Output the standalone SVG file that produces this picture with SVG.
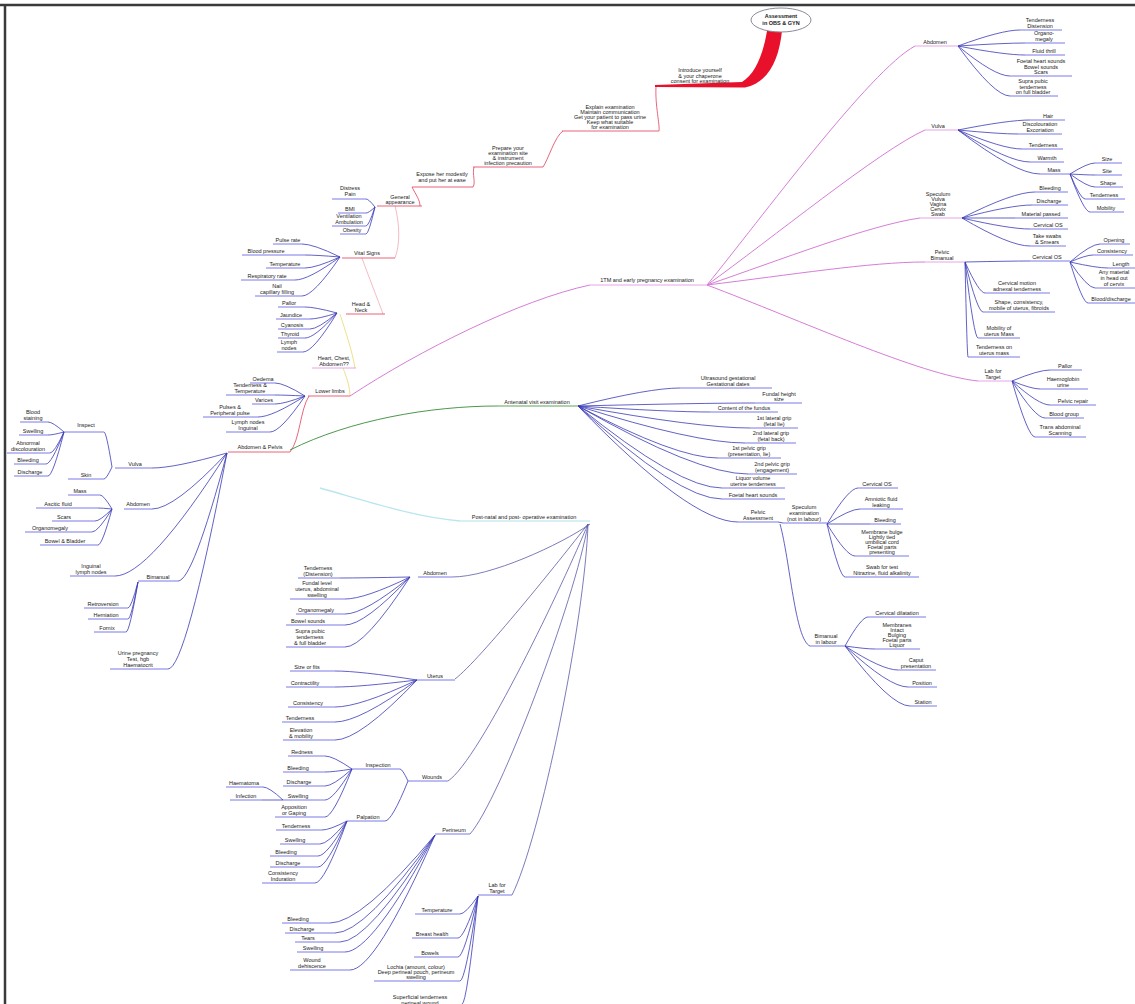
<svg xmlns="http://www.w3.org/2000/svg" width="1135" height="1004" viewBox="0 0 1135 1004">
<style>
.t{font-family:"Liberation Sans",Arial,sans-serif;font-size:5.5px;fill:#1a1a1a;text-anchor:middle}
.b{font-weight:bold}
.u{stroke:#6b6be6;stroke-width:0.9}
.ur{stroke:#e8506a;stroke-width:0.9}
.up{stroke:#e49ae4;stroke-width:0.9}
.ug{stroke:#4a9a4a;stroke-width:0.9}
.uc{stroke:#a8dde8;stroke-width:0.9}
.e{fill:none;stroke:#3a3ab8;stroke-width:0.8}
.en{fill:none;stroke:#5a5aa8;stroke-width:0.8}
.ep{fill:none;stroke:#d67ed6;stroke-width:1}
.er{fill:none;stroke:#e0405a;stroke-width:0.8}
.ey{fill:none;stroke:#e8d870;stroke-width:0.8}
.el{fill:none;stroke:#f0a8b8;stroke-width:0.8}
</style>
<rect width="1135" height="1004" fill="#ffffff"/>
<path d="M0,5 H1135 M5,5 V1004" stroke="#3a3a3a" stroke-width="2.5" fill="none"/>

<g id="connectors">
<path d="M767,31 L782,31 C779,58 770,82 745,87.5 L655,87 L655,85 L742,82 C755,74 763,55 767,31 Z" fill="#e8102a"/>
<path class="er" d="M656,87 C655,105 660,125 659,131"/>
<path class="er" d="M563,131 C555,136 548,160 543,167"/>
<path class="er" d="M474,167 C472,175 476,182 473,187"/>
<path class="er" d="M412,187 C416,195 420,200 420,206"/>
<path class="el" d="M395,206 C400,225 400,245 395,258"/>
<path class="el" d="M362,258 C368,275 378,300 383,314"/>
<path class="ey" d="M340,314 C345,330 352,350 355,368"/>
<path class="ey" d="M343,368 C347,378 350,388 350,396"/>
<path class="er" d="M309,396 C300,410 300,440 290,452"/>
<path class="ep" d="M350,396 C420,350 520,300 590,285"/>
<path fill="none" stroke="#3a8a3a" stroke-width="0.9" d="M290,450 C350,420 430,406 498,406"/>
<path fill="none" stroke="#b8e6f0" stroke-width="1.3" d="M320,488 C380,505 420,518 460,521"/>

<path class="ep" d="M707,285 C760,220 870,70 915,46"/>
<path class="ep" d="M707,285 C770,240 880,150 925,130"/>
<path class="ep" d="M707,285 C780,260 870,225 920,218"/>
<path class="ep" d="M707,285 C790,275 870,262 925,262"/>
<path class="ep" d="M707,285 C800,320 920,375 978,381"/>

<path class="e" d="M375,207 Q368.7,199 366,199 M375,207 Q368.7,213 366,213 M375,207 Q368.7,226 366,226 M375,207 Q368.7,234 366,234"/>
<path class="e" d="M340,257 Q313.4,244 302,244 M340,257 Q315.5,255 305,255 M340,257 Q315.5,268 305,268 M340,257 Q308.5,280 295,280 M340,257 Q313.4,296 302,296"/>
<path class="e" d="M337,313 Q314.6,307 305,307 M337,313 Q318.1,319 310,319 M337,313 Q318.1,329 310,329 M337,313 Q314.6,338 305,338 M337,313 Q313.2,352 303,352"/>
<path class="e" d="M305,396 Q284,383 275,383 M305,396 Q284,395 275,395 M305,396 Q284,404 275,404 M305,396 Q272.1,417 258,417 M305,396 Q280.5,432 270,432"/>
<path class="e" d="M227,453 Q174.5,468 152,468 M227,453 Q174.5,509 152,509 M227,453 Q148.6,576 115,576 M227,453 Q192.7,581 178,581 M227,453 Q185.7,669 168,669"/>
<path class="e" d="M112,467 Q106.4,432 104,432 M112,467 Q106.4,479 104,479"/>
<path class="e" d="M64,432 Q52.8,422 48,422 M64,432 Q52.8,435 48,435 M64,432 Q54.2,453 50,453 M64,432 Q51.4,464 46,464 M64,432 Q52.8,476 48,476"/>
<path class="e" d="M112,509 Q103.6,495 100,495 M112,509 Q102.2,508 98,508 M112,509 Q100.1,521 95,521 M112,509 Q98,532 92,532 M112,509 Q102.2,545 98,545"/>
<path class="e" d="M138,582 Q131,608 128,608 M138,582 Q131,619 128,619 M138,582 Q129.6,632 126,632"/>

<path class="e" d="M958,46 Q1001.4,30 1020,30 M958,46 Q1004.9,43 1025,43 M958,46 Q1004.9,55 1025,55 M958,46 Q994.4,76 1010,76 M958,46 Q994.4,96 1010,96"/>
<path class="e" d="M958,130 Q1008.4,120 1030,120 M958,130 Q1000,134 1018,134 M958,130 Q1002.8,149 1022,149 M958,130 Q1008.4,162 1030,162 M958,130 Q1015.4,174 1040,174"/>
<path class="e" d="M1070,174 Q1087.5,163 1095,163 M1070,174 Q1087.5,175 1095,175 M1070,174 Q1087.5,187 1095,187 M1070,174 Q1080.5,199 1085,199 M1070,174 Q1084,212 1090,212"/>
<path class="e" d="M962,218 Q1013.1,192 1035,192 M962,218 Q1011,205 1032,205 M962,218 Q999.1,218 1015,218 M962,218 Q1009.6,229 1030,229 M962,218 Q1009.6,246 1030,246"/>
<path class="e" d="M965,262 Q1010.5,261 1030,261 M965,262 Q979,293 985,293 M965,262 Q977.6,312 983,312 M965,262 Q974.1,338 978,338 M965,262 Q967.1,357 968,357"/>
<path class="e" d="M1070,262 Q1091,244 1100,244 M1070,262 Q1086.1,255 1093,255 M1070,262 Q1096.6,268 1108,268 M1070,262 Q1087.5,288 1095,288 M1070,262 Q1082.6,303 1088,303"/>
<path class="e" d="M1012,381 Q1038.6,370 1050,370 M1012,381 Q1031.6,389 1040,389 M1012,381 Q1038.6,405 1050,405 M1012,381 Q1035.1,418 1045,418 M1012,381 Q1028.1,437 1035,437"/>

<path class="e" d="M578,406 Q649.4,388 680,388 M578,406 Q701.9,403 755,403 M578,406 Q670.4,412 710,412 M578,406 Q698.4,428 750,428 M578,406 Q694.9,443 745,443 M578,406 Q676,458 718,458 M578,406 Q697,474 748,474 M578,406 Q678.8,488 722,488 M578,406 Q678.8,499 722,499 M578,406 Q690,522 738,522"/>
<path class="e" d="M778,522 L783,523 M780,524 C790,560 795,640 810,646"/>
<path class="e" d="M827,524 Q848.7,488 858,488 M827,524 Q850.1,509 860,509 M827,524 L870,524 M827,524 Q846.6,556 855,556 M827,524 Q839.6,577 845,577"/>
<path class="e" d="M845,646 Q861.1,617 868,617 M845,646 Q866,649 875,649 M845,646 Q882.1,670 898,670 M845,646 Q889.1,687 908,687 M845,646 Q890.5,706 910,706"/>

<path class="en" d="M590,524 C560,545 490,577 452,577"/>
<path class="en" d="M588,524 C560,560 480,660 455,679"/>
<path class="en" d="M588,524 C565,580 480,760 448,781"/>
<path class="en" d="M588,524 C575,600 500,800 470,834"/>
<path class="en" d="M588,524 C585,620 540,840 512,895"/>
<path class="e" d="M410,577 Q361,578 340,578 M410,577 Q364.5,599 345,599 M410,577 Q364.5,614 345,614 M410,577 Q364.5,625 345,625 M410,577 Q364.5,647 345,647"/>
<path class="e" d="M417,680 Q359.6,671 335,671 M417,680 Q359.6,687 335,687 M417,680 Q359.6,707 335,707 M417,680 Q359.6,722 335,722 M417,680 Q359.6,740 335,740"/>
<path class="e" d="M408,781 Q402.4,769 400,769 M408,781 Q391.9,821 385,821"/>
<path class="e" d="M352,769 Q333.1,756 325,756 M352,769 Q333.1,772 325,772 M352,769 Q333.1,786 325,786 M352,769 Q333.1,800 325,800 M352,769 Q333.1,817 325,817"/>
<path class="e" d="M283,800 Q269,787 263,787 M283,800 L262,800"/>
<path class="e" d="M347,821 Q329.5,830 322,830 M347,821 Q328.1,844 320,844 M347,821 Q326.7,856 318,856 M347,821 Q326.7,867 318,867 M347,821 Q324.6,883 315,883"/>
<path class="e" d="M435,835 Q361.5,923 330,923 M435,835 Q365,933 335,933 M435,835 Q368.5,942 340,942 M435,835 Q372,952 345,952 M435,835 Q375.5,970 350,970"/>
<path class="e" d="M478,896 Q465.4,914 460,914 M478,896 Q464,938 458,938 M478,896 Q464,957 458,957 M478,896 Q465.4,981 460,981 M478,896 Q466.8,1004 462,1004"/>
</g>

<g id="root">
<ellipse cx="781" cy="20" rx="30" ry="12" fill="#ffffff" stroke="#8a8a9a" stroke-width="1"/>
<text class="t b" x="781" y="18">Assessment</text>
<text class="t b" x="781" y="25">in OBS &amp; GYN</text>
</g>

<g id="n-intro"><text class="t" x="700" y="72">Introduce yourself</text><text class="t" x="700" y="77.5">&amp; your chaperone</text><text class="t" x="700" y="83">consent for examination</text></g>
<g id="n-explain"><text class="t" x="610" y="109">Explain examination</text><text class="t" x="610" y="114">Maintain communication</text><text class="t" x="610" y="119">Get your patient to pass urine</text><text class="t" x="610" y="124">Keep what suitable</text><text class="t" x="610" y="129">for examination</text><line class="ur" x1="562" y1="131" x2="659" y2="131"/></g>
<g id="n-prepare"><text class="t" x="508" y="150">Prepare your</text><text class="t" x="508" y="155">examination site</text><text class="t" x="508" y="160">&amp; instrument</text><text class="t" x="508" y="165">infection precaution</text><line class="ur" x1="473" y1="167" x2="543" y2="167"/></g>
<g id="n-expose"><text class="t" x="442" y="176">Expose her modestly</text><text class="t" x="442" y="182">and put her at ease</text><line class="ur" x1="412" y1="187" x2="473" y2="187"/></g>

<g id="n-general"><text class="t" x="400" y="199">General</text><text class="t" x="400" y="204">appearance</text><line class="ur" x1="377" y1="206" x2="422" y2="206"/></g>
<g id="n-distress"><text class="t" x="350" y="190">Distress</text><text class="t" x="350" y="196">Pain</text><line class="u" x1="332" y1="199" x2="366" y2="199"/></g>
<g id="n-bmi"><text class="t" x="350" y="211">BMI</text><line class="u" x1="338" y1="213" x2="366" y2="213"/></g>
<g id="n-vent"><text class="t" x="349" y="218">Ventilation</text><text class="t" x="349" y="223.5">Ambulation</text><line class="u" x1="332" y1="226" x2="366" y2="226"/></g>
<g id="n-obesity"><text class="t" x="352" y="232">Obesity</text><line class="u" x1="340" y1="234" x2="366" y2="234"/></g>

<g id="n-vital"><text class="t" x="367" y="255">Vital Signs</text><line class="ur" x1="342" y1="258" x2="395" y2="258"/></g>
<g id="n-pulse"><text class="t" x="288" y="242">Pulse rate</text><line class="u" x1="273" y1="244" x2="302" y2="244"/></g>
<g id="n-bp"><text class="t" x="266" y="253">Blood pressure</text><line class="u" x1="242" y1="255" x2="305" y2="255"/></g>
<g id="n-temp"><text class="t" x="285" y="266">Temperature</text><line class="u" x1="266" y1="268" x2="305" y2="268"/></g>
<g id="n-resp"><text class="t" x="267" y="278">Respiratory rate</text><line class="u" x1="241" y1="280" x2="295" y2="280"/></g>
<g id="n-nail"><text class="t" x="277" y="288">Nail</text><text class="t" x="277" y="294">capillary filling</text><line class="u" x1="255" y1="296" x2="302" y2="296"/></g>

<g id="n-headneck"><text class="t" x="361" y="306">Head &amp;</text><text class="t" x="361" y="312">Neck</text><line class="ur" x1="346" y1="314" x2="385" y2="314"/></g>
<g id="n-pallor"><text class="t" x="289" y="305">Pallor</text><line class="u" x1="278" y1="307" x2="305" y2="307"/></g>
<g id="n-jaundice"><text class="t" x="291" y="317">Jaundice</text><line class="u" x1="276" y1="319" x2="310" y2="319"/></g>
<g id="n-cyanosis"><text class="t" x="292" y="327">Cyanosis</text><line class="u" x1="278" y1="329" x2="310" y2="329"/></g>
<g id="n-thyroid"><text class="t" x="290" y="336">Thyroid</text><line class="u" x1="278" y1="338" x2="305" y2="338"/></g>
<g id="n-lymph"><text class="t" x="289" y="344">Lymph</text><text class="t" x="289" y="350">nodes</text><line class="u" x1="277" y1="352" x2="303" y2="352"/></g>

<g id="n-heart"><text class="t" x="334" y="360">Heart, Chest,</text><text class="t" x="334" y="366">Abdomen??</text><line class="up" x1="312" y1="368" x2="356" y2="368"/></g>

<g id="n-lower"><text class="t" x="330" y="393">Lower limbs</text><line class="ur" x1="308" y1="396" x2="350" y2="396"/></g>
<g id="n-oedema"><text class="t" x="263" y="381">Oedema</text><line class="u" x1="250" y1="383" x2="275" y2="383"/></g>
<g id="n-tender-ll"><text class="t" x="250" y="387">Tenderness &amp;</text><text class="t" x="250" y="393">Temperature</text><line class="u" x1="226" y1="395" x2="275" y2="395"/></g>
<g id="n-varices"><text class="t" x="264" y="402">Varices</text><line class="u" x1="252" y1="404" x2="275" y2="404"/></g>
<g id="n-pulses"><text class="t" x="230" y="409">Pulses &amp;</text><text class="t" x="230" y="415">Peripheral pulse</text><line class="u" x1="203" y1="417" x2="258" y2="417"/></g>
<g id="n-lymph-ll"><text class="t" x="248" y="424">Lymph nodes</text><text class="t" x="248" y="430">Inguinal</text><line class="u" x1="226" y1="432" x2="270" y2="432"/></g>

<g id="n-abdpelvis"><text class="t" x="260" y="449">Abdomen &amp; Pelvis</text><line class="ur" x1="228" y1="452" x2="290" y2="452"/></g>
<g id="n-vulva"><text class="t" x="135" y="466">Vulva</text><line class="u" x1="115" y1="468" x2="152" y2="468"/></g>
<g id="n-inspect"><text class="t" x="86" y="427">Inspect</text><line class="u" x1="64" y1="432" x2="104" y2="432"/></g>
<g id="n-skin"><text class="t" x="86" y="477">Skin</text><line class="u" x1="68" y1="479" x2="104" y2="479"/></g>
<g id="n-bstain"><text class="t" x="33" y="414">Blood</text><text class="t" x="33" y="420">staining</text><line class="u" x1="20" y1="422" x2="48" y2="422"/></g>
<g id="n-swell-v"><text class="t" x="33" y="433">Swelling</text><line class="u" x1="19" y1="435" x2="48" y2="435"/></g>
<g id="n-abnorm"><text class="t" x="28" y="445">Abnormal</text><text class="t" x="28" y="451">discolouration</text><line class="u" x1="7" y1="453" x2="50" y2="453"/></g>
<g id="n-bleed-v"><text class="t" x="28" y="462">Bleeding</text><line class="u" x1="14" y1="464" x2="46" y2="464"/></g>
<g id="n-disch-v"><text class="t" x="30" y="474">Discharge</text><line class="u" x1="14" y1="476" x2="48" y2="476"/></g>

<g id="n-abd-ap"><text class="t" x="138" y="506">Abdomen</text><line class="u" x1="124" y1="509" x2="152" y2="509"/></g>
<g id="n-mass-ap"><text class="t" x="80" y="493">Mass</text><line class="u" x1="68" y1="495" x2="100" y2="495"/></g>
<g id="n-ascitic"><text class="t" x="58" y="506">Ascitic fluid</text><line class="u" x1="36" y1="508" x2="98" y2="508"/></g>
<g id="n-scars-ap"><text class="t" x="64" y="519">Scars</text><line class="u" x1="52" y1="521" x2="95" y2="521"/></g>
<g id="n-organo-ap"><text class="t" x="50" y="530">Organomegaly</text><line class="u" x1="25" y1="532" x2="92" y2="532"/></g>
<g id="n-bowel-ap"><text class="t" x="65" y="543">Bowel &amp; Bladder</text><line class="u" x1="40" y1="545" x2="98" y2="545"/></g>
<g id="n-inguinal"><text class="t" x="91" y="568">Inguinal</text><text class="t" x="91" y="574">lymph nodes</text><line class="u" x1="70" y1="576" x2="115" y2="576"/></g>
<g id="n-bimanual-ap"><text class="t" x="158" y="579">Bimanual</text><line class="u" x1="138" y1="581" x2="178" y2="581"/></g>
<g id="n-retro"><text class="t" x="103" y="606">Retroversion</text><line class="u" x1="84" y1="608" x2="128" y2="608"/></g>
<g id="n-hern"><text class="t" x="106" y="617">Herniation</text><line class="u" x1="88" y1="619" x2="128" y2="619"/></g>
<g id="n-fornix"><text class="t" x="107" y="630">Fornix</text><line class="u" x1="94" y1="632" x2="126" y2="632"/></g>
<g id="n-urine"><text class="t" x="138" y="655">Urine pregnancy</text><text class="t" x="138" y="661">Test, hgb</text><text class="t" x="138" y="667">Haematocrit</text><line class="u" x1="110" y1="669" x2="168" y2="669"/></g>

<g id="n-1tm"><text class="t" x="647" y="282">1TM and early pregnancy examination</text><line class="up" x1="590" y1="285" x2="707" y2="285"/></g>
<g id="n-abd1"><text class="t" x="935" y="44">Abdomen</text><line class="up" x1="915" y1="46" x2="958" y2="46"/></g>
<g id="n-tend1"><text class="t" x="1040" y="22">Tenderness</text><text class="t" x="1040" y="28">Distension</text><line class="u" x1="1020" y1="30" x2="1062" y2="30"/></g>
<g id="n-organo1"><text class="t" x="1044" y="35">Organo-</text><text class="t" x="1044" y="41">megaly</text><line class="u" x1="1025" y1="43" x2="1065" y2="43"/></g>
<g id="n-fluid1"><text class="t" x="1044" y="53">Fluid thrill</text><line class="u" x1="1025" y1="55" x2="1065" y2="55"/></g>
<g id="n-foetal1"><text class="t" x="1041" y="63">Foetal heart sounds</text><text class="t" x="1041" y="68.5">Bowel sounds</text><text class="t" x="1041" y="74">Scars</text><line class="u" x1="1010" y1="76" x2="1072" y2="76"/></g>
<g id="n-supra1"><text class="t" x="1033" y="83">Supra pubic</text><text class="t" x="1033" y="88.5">tenderness</text><text class="t" x="1033" y="94">on full bladder</text><line class="u" x1="1010" y1="96" x2="1058" y2="96"/></g>

<g id="n-vulva1"><text class="t" x="938" y="128">Vulva</text><line class="up" x1="925" y1="130" x2="958" y2="130"/></g>
<g id="n-hair1"><text class="t" x="1048" y="118">Hair</text><line class="u" x1="1030" y1="120" x2="1065" y2="120"/></g>
<g id="n-discol1"><text class="t" x="1040" y="126">Discolouration</text><text class="t" x="1040" y="132">Excoriation</text><line class="u" x1="1018" y1="134" x2="1062" y2="134"/></g>
<g id="n-tend1b"><text class="t" x="1043" y="147">Tenderness</text><line class="u" x1="1022" y1="149" x2="1063" y2="149"/></g>
<g id="n-warm1"><text class="t" x="1047" y="160">Warmth</text><line class="u" x1="1030" y1="162" x2="1064" y2="162"/></g>
<g id="n-mass1"><text class="t" x="1054" y="172">Mass</text><line class="u" x1="1040" y1="174" x2="1070" y2="174"/></g>
<g id="n-size1"><text class="t" x="1107" y="161">Size</text><line class="u" x1="1095" y1="163" x2="1122" y2="163"/></g>
<g id="n-site1"><text class="t" x="1107" y="173">Site</text><line class="u" x1="1095" y1="175" x2="1122" y2="175"/></g>
<g id="n-shape1"><text class="t" x="1108" y="185">Shape</text><line class="u" x1="1095" y1="187" x2="1123" y2="187"/></g>
<g id="n-tend1c"><text class="t" x="1104" y="197">Tenderness</text><line class="u" x1="1085" y1="199" x2="1125" y2="199"/></g>
<g id="n-mob1"><text class="t" x="1106" y="210">Mobility</text><line class="u" x1="1090" y1="212" x2="1124" y2="212"/></g>

<g id="n-spec1"><text class="t" x="938" y="196">Speculum</text><text class="t" x="938" y="201">Vulva</text><text class="t" x="938" y="206">Vagina</text><text class="t" x="938" y="211">Cervix</text><text class="t" x="938" y="216">Swab</text><line class="up" x1="920" y1="218" x2="962" y2="218"/></g>
<g id="n-bleed1"><text class="t" x="1050" y="190">Bleeding</text><line class="u" x1="1035" y1="192" x2="1068" y2="192"/></g>
<g id="n-disch1"><text class="t" x="1049" y="203">Discharge</text><line class="u" x1="1032" y1="205" x2="1068" y2="205"/></g>
<g id="n-mat1"><text class="t" x="1041" y="216">Material passed</text><line class="u" x1="1015" y1="218" x2="1068" y2="218"/></g>
<g id="n-cos1"><text class="t" x="1048" y="227">Cervical OS</text><line class="u" x1="1030" y1="229" x2="1068" y2="229"/></g>
<g id="n-swabs1"><text class="t" x="1047" y="238">Take swabs</text><text class="t" x="1047" y="244">&amp; Smears</text><line class="u" x1="1030" y1="246" x2="1066" y2="246"/></g>

<g id="n-pelvic1"><text class="t" x="942" y="254">Pelvic</text><text class="t" x="942" y="260">Bimanual</text><line class="up" x1="925" y1="262" x2="965" y2="262"/></g>
<g id="n-cos2"><text class="t" x="1047" y="259">Cervical OS</text><line class="u" x1="1030" y1="261" x2="1070" y2="261"/></g>
<g id="n-open"><text class="t" x="1114" y="242">Opening</text><line class="u" x1="1100" y1="244" x2="1130" y2="244"/></g>
<g id="n-consist1"><text class="t" x="1112" y="253">Consistency</text><line class="u" x1="1093" y1="255" x2="1133" y2="255"/></g>
<g id="n-length"><text class="t" x="1121" y="266">Length</text><line class="u" x1="1108" y1="268" x2="1135" y2="268"/></g>
<g id="n-anymat"><text class="t" x="1114" y="274">Any material</text><text class="t" x="1114" y="280">in head out</text><text class="t" x="1114" y="286">of cervix</text><line class="u" x1="1095" y1="288" x2="1135" y2="288"/></g>
<g id="n-blooddis"><text class="t" x="1111" y="301">Blood/discharge</text><line class="u" x1="1088" y1="303" x2="1135" y2="303"/></g>
<g id="n-cmotion"><text class="t" x="1017" y="285">Cervical motion</text><text class="t" x="1017" y="291">adnexal tenderness</text><line class="u" x1="985" y1="293" x2="1050" y2="293"/></g>
<g id="n-shape2"><text class="t" x="1019" y="304">Shape, consistency,</text><text class="t" x="1019" y="310">mobile of uterus, fibroids</text><line class="u" x1="983" y1="312" x2="1055" y2="312"/></g>
<g id="n-mobut"><text class="t" x="999" y="330">Mobility of</text><text class="t" x="999" y="336">uterus Mass</text><line class="u" x1="978" y1="338" x2="1020" y2="338"/></g>
<g id="n-tendon"><text class="t" x="994" y="349">Tenderness on</text><text class="t" x="994" y="355">uterus mass</text><line class="u" x1="968" y1="357" x2="1020" y2="357"/></g>

<g id="n-lab1"><text class="t" x="993" y="373">Lab for</text><text class="t" x="993" y="379">Target</text><line class="up" x1="978" y1="381" x2="1012" y2="381"/></g>
<g id="n-pallor1"><text class="t" x="1065" y="368">Pallor</text><line class="u" x1="1050" y1="370" x2="1082" y2="370"/></g>
<g id="n-haemo1"><text class="t" x="1063" y="381">Haemoglobin</text><text class="t" x="1063" y="387">urine</text><line class="u" x1="1040" y1="389" x2="1088" y2="389"/></g>
<g id="n-prepair"><text class="t" x="1073" y="403">Pelvic repair</text><line class="u" x1="1050" y1="405" x2="1096" y2="405"/></g>
<g id="n-bgroup"><text class="t" x="1064" y="416">Blood group</text><line class="u" x1="1045" y1="418" x2="1084" y2="418"/></g>
<g id="n-trans"><text class="t" x="1060" y="429">Trans abdominal</text><text class="t" x="1060" y="435">Scanning</text><line class="u" x1="1035" y1="437" x2="1086" y2="437"/></g>

<g id="n-antenatal"><text class="t" x="537" y="404">Antenatal visit examination</text><line class="ug" x1="498" y1="406" x2="578" y2="406"/></g>
<g id="n-ultra"><text class="t" x="728" y="380">Ultrasound gestational</text><text class="t" x="728" y="386">Gestational dates</text><line class="u" x1="680" y1="388" x2="772" y2="388"/></g>
<g id="n-fundal"><text class="t" x="779" y="396">Fundal height</text><text class="t" x="779" y="401">size</text><line class="u" x1="755" y1="403" x2="802" y2="403"/></g>
<g id="n-content"><text class="t" x="744" y="410">Content of the fundus</text><line class="u" x1="710" y1="412" x2="778" y2="412"/></g>
<g id="n-lat1"><text class="t" x="774" y="420">1st lateral grip</text><text class="t" x="774" y="426">(fetal lie)</text><line class="u" x1="750" y1="428" x2="798" y2="428"/></g>
<g id="n-lat2"><text class="t" x="771" y="435">2nd lateral grip</text><text class="t" x="771" y="441">(fetal back)</text><line class="u" x1="745" y1="443" x2="796" y2="443"/></g>
<g id="n-pel1"><text class="t" x="749" y="450">1st pelvic grip</text><text class="t" x="749" y="456">(presentation, lie)</text><line class="u" x1="718" y1="458" x2="781" y2="458"/></g>
<g id="n-pel2"><text class="t" x="772" y="466">2nd pelvic grip</text><text class="t" x="772" y="472">(engagement)</text><line class="u" x1="748" y1="474" x2="797" y2="474"/></g>
<g id="n-liquor"><text class="t" x="753" y="480">Liquor volume</text><text class="t" x="753" y="486">uterine tenderness</text><line class="u" x1="722" y1="488" x2="785" y2="488"/></g>
<g id="n-fhs"><text class="t" x="753" y="497">Foetal heart sounds</text><line class="u" x1="722" y1="499" x2="785" y2="499"/></g>
<g id="n-pelvass"><text class="t" x="758" y="514">Pelvic</text><text class="t" x="758" y="520">Assessment</text><line class="u" x1="738" y1="522" x2="778" y2="522"/></g>
<g id="n-specex"><text class="t" x="804" y="509">Speculum</text><text class="t" x="804" y="515">examination</text><text class="t" x="804" y="521">(not in labour)</text><line class="u" x1="783" y1="523" x2="827" y2="523"/></g>
<g id="n-cos3"><text class="t" x="877" y="486">Cervical OS</text><line class="u" x1="858" y1="488" x2="898" y2="488"/></g>
<g id="n-amnio"><text class="t" x="881" y="501">Amniotic fluid</text><text class="t" x="881" y="507">leaking</text><line class="u" x1="860" y1="509" x2="903" y2="509"/></g>
<g id="n-bleed3"><text class="t" x="885" y="522">Bleeding</text><line class="u" x1="870" y1="524" x2="901" y2="524"/></g>
<g id="n-memb"><text class="t" x="882" y="534">Membrane bulge</text><text class="t" x="882" y="539">Lightly tied</text><text class="t" x="882" y="544">umbilical cord</text><text class="t" x="882" y="549">Foetal parts</text><text class="t" x="882" y="554">presenting</text><line class="u" x1="855" y1="556" x2="909" y2="556"/></g>
<g id="n-swab3"><text class="t" x="882" y="569">Swab for test</text><text class="t" x="882" y="575">Nitrazine, fluid alkalinity</text><line class="u" x1="845" y1="577" x2="919" y2="577"/></g>
<g id="n-biminl"><text class="t" x="826" y="638">Bimanual</text><text class="t" x="826" y="644">in labour</text><line class="u" x1="810" y1="646" x2="845" y2="646"/></g>
<g id="n-cdil"><text class="t" x="897" y="615">Cervical dilatation</text><line class="u" x1="868" y1="617" x2="926" y2="617"/></g>
<g id="n-membs"><text class="t" x="897" y="627">Membranes</text><text class="t" x="897" y="632">Intact</text><text class="t" x="897" y="637">Bulging</text><text class="t" x="897" y="642">Foetal parts</text><text class="t" x="897" y="647">Liquor</text><line class="u" x1="875" y1="649" x2="920" y2="649"/></g>
<g id="n-caput"><text class="t" x="916" y="662">Caput</text><text class="t" x="916" y="668">presentation</text><line class="u" x1="898" y1="670" x2="936" y2="670"/></g>
<g id="n-position"><text class="t" x="922" y="685">Position</text><line class="u" x1="908" y1="687" x2="937" y2="687"/></g>
<g id="n-station"><text class="t" x="923" y="704">Station</text><line class="u" x1="910" y1="706" x2="937" y2="706"/></g>

<g id="n-postnatal"><text class="t" x="524" y="519">Post-natal and post- operative examination</text><line class="uc" x1="460" y1="521" x2="590" y2="521"/></g>
<g id="n-abd-pn"><text class="t" x="435" y="575">Abdomen</text><line class="u" x1="418" y1="577" x2="452" y2="577"/></g>
<g id="n-tend-pn"><text class="t" x="318" y="570">Tenderness</text><text class="t" x="318" y="576">(Distension)</text><line class="u" x1="298" y1="578" x2="340" y2="578"/></g>
<g id="n-fundlev"><text class="t" x="317" y="585">Fundal level</text><text class="t" x="317" y="591">uterus, abdominal</text><text class="t" x="317" y="597">swelling</text><line class="u" x1="290" y1="599" x2="345" y2="599"/></g>
<g id="n-organo-pn"><text class="t" x="316" y="612">Organomegaly</text><line class="u" x1="296" y1="614" x2="345" y2="614"/></g>
<g id="n-bowel-pn"><text class="t" x="308" y="623">Bowel sounds</text><line class="u" x1="286" y1="625" x2="345" y2="625"/></g>
<g id="n-supra-pn"><text class="t" x="310" y="633">Supra pubic</text><text class="t" x="310" y="639">tenderness</text><text class="t" x="310" y="645">&amp; full bladder</text><line class="u" x1="286" y1="647" x2="345" y2="647"/></g>

<g id="n-uterus"><text class="t" x="435" y="678">Uterus</text><line class="u" x1="417" y1="680" x2="455" y2="680"/></g>
<g id="n-sizefit"><text class="t" x="307" y="669">Size or fits</text><line class="u" x1="290" y1="671" x2="335" y2="671"/></g>
<g id="n-contract"><text class="t" x="305" y="685">Contractility</text><line class="u" x1="286" y1="687" x2="335" y2="687"/></g>
<g id="n-consist-pn"><text class="t" x="308" y="705">Consistency</text><line class="u" x1="288" y1="707" x2="335" y2="707"/></g>
<g id="n-tend-ut"><text class="t" x="300" y="720">Tenderness</text><line class="u" x1="282" y1="722" x2="335" y2="722"/></g>
<g id="n-elev"><text class="t" x="301" y="732">Elevation</text><text class="t" x="301" y="738">&amp; mobility</text><line class="u" x1="283" y1="740" x2="335" y2="740"/></g>

<g id="n-wounds"><text class="t" x="432" y="779">Wounds</text><line class="u" x1="408" y1="781" x2="448" y2="781"/></g>
<g id="n-inspection"><text class="t" x="378" y="767">Inspection</text><line class="u" x1="352" y1="769" x2="400" y2="769"/></g>
<g id="n-redness"><text class="t" x="302" y="754">Redness</text><line class="u" x1="288" y1="756" x2="325" y2="756"/></g>
<g id="n-bleed-w"><text class="t" x="298" y="770">Bleeding</text><line class="u" x1="283" y1="772" x2="325" y2="772"/></g>
<g id="n-disch-w"><text class="t" x="299" y="784">Discharge</text><line class="u" x1="283" y1="786" x2="325" y2="786"/></g>
<g id="n-swell-w"><text class="t" x="298" y="798">Swelling</text><line class="u" x1="283" y1="800" x2="325" y2="800"/></g>
<g id="n-haematoma"><text class="t" x="244" y="785">Haematoma</text><line class="u" x1="226" y1="787" x2="263" y2="787"/></g>
<g id="n-infection"><text class="t" x="246" y="798">Infection</text><line class="u" x1="230" y1="800" x2="262" y2="800"/></g>
<g id="n-apposition"><text class="t" x="294" y="809">Apposition</text><text class="t" x="294" y="815">or Gaping</text><line class="u" x1="275" y1="817" x2="325" y2="817"/></g>
<g id="n-palpation"><text class="t" x="368" y="819">Palpation</text><line class="u" x1="347" y1="821" x2="385" y2="821"/></g>
<g id="n-tend-p"><text class="t" x="296" y="828">Tenderness</text><line class="u" x1="276" y1="830" x2="322" y2="830"/></g>
<g id="n-swell-p"><text class="t" x="295" y="842">Swelling</text><line class="u" x1="280" y1="844" x2="320" y2="844"/></g>
<g id="n-bleed-p"><text class="t" x="286" y="854">Bleeding</text><line class="u" x1="270" y1="856" x2="318" y2="856"/></g>
<g id="n-disch-p"><text class="t" x="288" y="865">Discharge</text><line class="u" x1="270" y1="867" x2="318" y2="867"/></g>
<g id="n-consist-p"><text class="t" x="283" y="875">Consistency</text><text class="t" x="283" y="881">Induration</text><line class="u" x1="262" y1="883" x2="315" y2="883"/></g>

<g id="n-perineum"><text class="t" x="454" y="832">Perineum</text><line class="u" x1="435" y1="834" x2="470" y2="834"/></g>
<g id="n-bleed-pe"><text class="t" x="298" y="921">Bleeding</text><line class="u" x1="282" y1="923" x2="330" y2="923"/></g>
<g id="n-disch-pe"><text class="t" x="302" y="931">Discharge</text><line class="u" x1="285" y1="933" x2="335" y2="933"/></g>
<g id="n-tears"><text class="t" x="308" y="940">Tears</text><line class="u" x1="295" y1="942" x2="340" y2="942"/></g>
<g id="n-swell-pe"><text class="t" x="313" y="950">Swelling</text><line class="u" x1="297" y1="952" x2="345" y2="952"/></g>
<g id="n-wound"><text class="t" x="312" y="962">Wound</text><text class="t" x="312" y="968">dehiscence</text><line class="u" x1="290" y1="970" x2="350" y2="970"/></g>

<g id="n-lab2"><text class="t" x="497" y="887">Lab for</text><text class="t" x="497" y="893">Target</text><line class="u" x1="478" y1="895" x2="512" y2="895"/></g>
<g id="n-temp2"><text class="t" x="437" y="912">Temperature</text><line class="u" x1="415" y1="914" x2="460" y2="914"/></g>
<g id="n-breast"><text class="t" x="432" y="936">Breast health</text><line class="u" x1="412" y1="938" x2="458" y2="938"/></g>
<g id="n-bowels"><text class="t" x="430" y="955">Bowels</text><line class="u" x1="414" y1="957" x2="458" y2="957"/></g>
<g id="n-lochia"><text class="t" x="416" y="969">Lochia (amount, colour)</text><text class="t" x="416" y="974">Deep perineal pouch, perineum</text><text class="t" x="416" y="979">swelling</text><line class="u" x1="374" y1="981" x2="460" y2="981"/></g>
<g id="n-superf"><text class="t" x="420" y="999">Superficial tenderness</text><text class="t" x="420" y="1005">perineal wound</text></g>
</svg>
